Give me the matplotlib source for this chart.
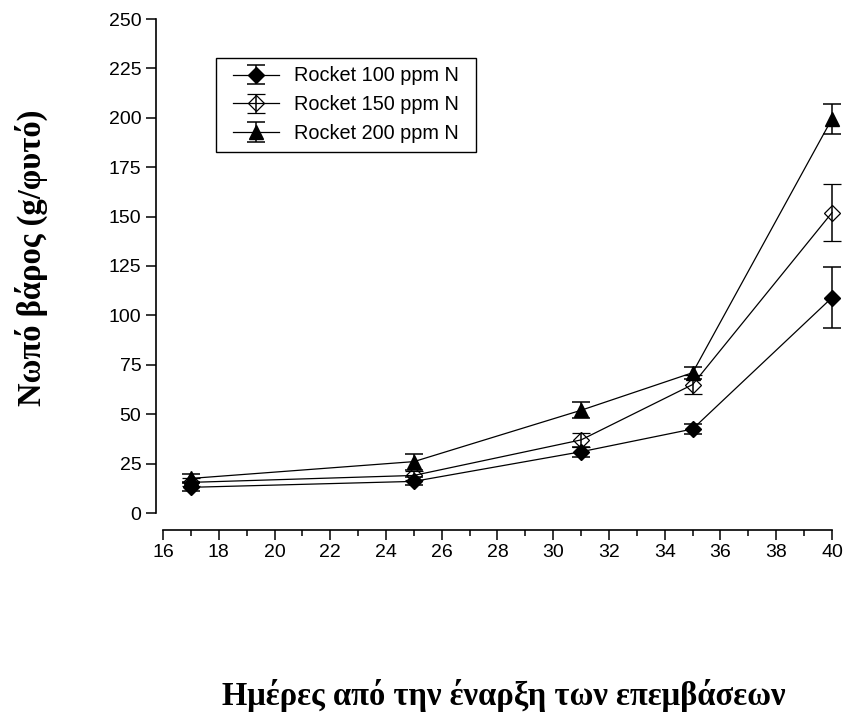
import matplotlib.pyplot as plt
from matplotlib.patches import Rectangle

# days from start of treatments
days = [17, 25, 31, 35, 40]

# fresh weight (g/plant) and error bars per nitrogen level
w100 = [13, 16, 31, 42.5, 109]
e100 = [2, 2, 2.5, 2.5, 15.5]
w150 = [15.5, 19, 37, 65, 152]
e150 = [2, 2.5, 3.5, 5, 14.5]
w200 = [17.5, 26, 52, 71, 199.5]
e200 = [2, 4, 4, 3, 7.5]

labels = ["Rocket 100 ppm N", "Rocket 150 ppm N", "Rocket 200 ppm N"]

xticks = list(range(16, 41, 2))
yticks = list(range(0, 251, 25))

plt.rcParams['font.family'] = ['Liberation Sans', 'DejaVu Sans']

fig = plt.figure(figsize=(8.43, 7.13), dpi=100)
ax = fig.add_axes([163 / 843, 1 - 513 / 713, (832 - 163) / 843, (513 - 19) / 713])

kw = dict(color="black", lw=0.9, capsize=6.5, elinewidth=1.1, capthick=1.1,
          clip_on=False)
ax.errorbar(days, w100, yerr=e100, marker="D", ms=8.5, mfc="black", mec="black",
            label=labels[0], **kw)
ax.errorbar(days, w150, yerr=e150, marker="D", ms=8.5, mfc="none", mec="black",
            mew=0.9, label=labels[1], **kw)
ax.errorbar(days, w200, yerr=e200, marker="^", ms=10.5, mfc="black", mec="black",
            label=labels[2], **kw)

ax.set_xlim(16, 40)
ax.set_ylim(0, 250)
ax.set_xticks(xticks)
ax.set_xticks(range(16, 41), minor=True)
ax.set_yticks(yticks)

ax.spines["top"].set_visible(False)
ax.spines["right"].set_visible(False)
ax.spines["bottom"].set_position(("outward", 12))
ax.spines["left"].set_position(("outward", 5))
for s in ("left", "bottom"):
    ax.spines[s].set_linewidth(1.2)

ax.tick_params(axis="both", which="major", direction="out", length=7, width=1.1,
               labelsize=14, colors="black")
ax.tick_params(axis="x", which="minor", direction="out", length=4, width=1.1)

# legend without its own frame; a wider box is drawn around it below
leg = ax.legend(loc="upper left", bbox_to_anchor=(0.093, 0.920), borderaxespad=0,
                fontsize=14.3, frameon=False, handlelength=2.3, borderpad=0.4,
                labelspacing=0.5, handletextpad=0.75)

fig.canvas.draw()
bb = leg.get_window_extent()
pad_x, pad_y = 9, 1
fig.add_artist(Rectangle((bb.x0 - pad_x, bb.y0 - pad_y), bb.width + 2 * pad_x,
                         bb.height + 2 * pad_y, transform=None, fill=False,
                         edgecolor="black", lw=1.0))

fig.text(0.037, 0.638, "Νωπό βάρος (g/φυτό)", rotation=90, ha="center", va="center",
         fontsize=23.5, fontweight="bold", family="Liberation Serif")
fig.text(0.598, 0.025, "Ημέρες από την έναρξη των επεμβάσεων", ha="center",
         va="center", fontsize=23.5, fontweight="bold", family="Liberation Serif")

fig.savefig("out.png", dpi=100)
